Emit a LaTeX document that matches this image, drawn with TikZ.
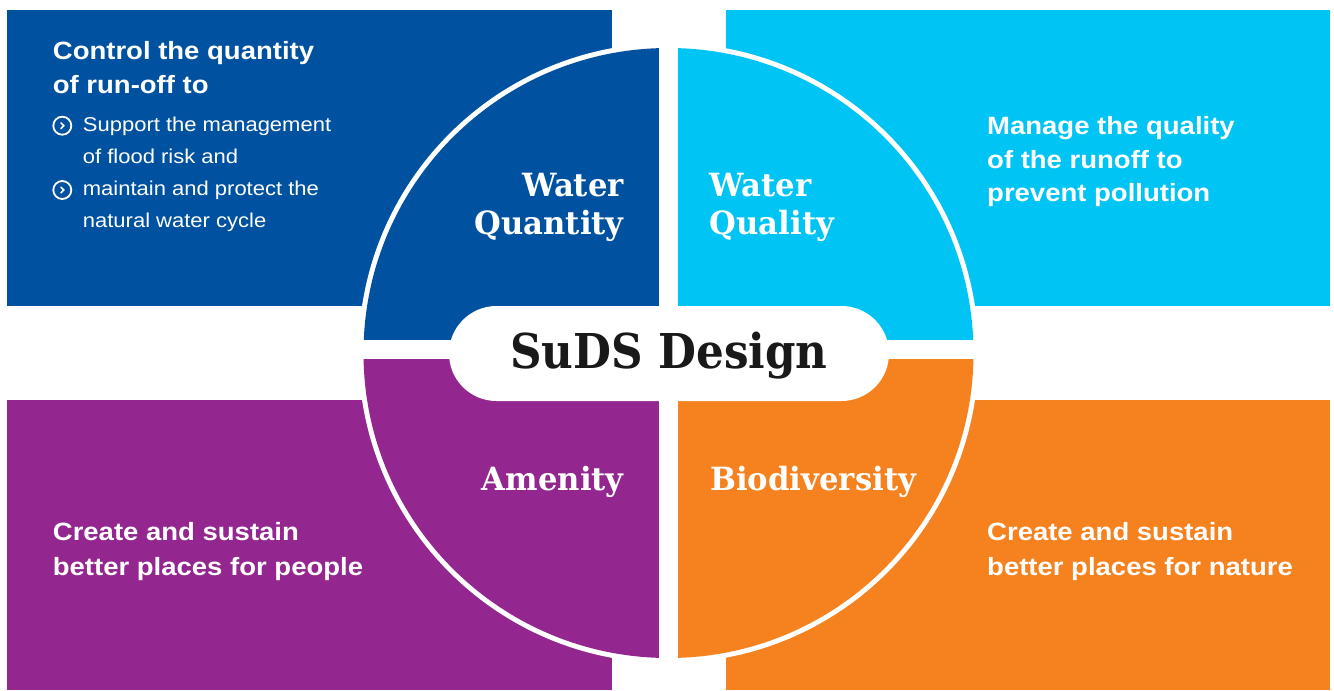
\documentclass[tikz,border=0pt]{standalone}
\usepackage{fontspec}
\setmainfont{Liberation Sans}
\newfontfamily\descfont[FakeStretch=1.1]{Liberation Sans}
\newfontfamily\slabfont[FakeStretch=0.96]{DejaVu Serif}
\newfontfamily\slabnarrow[FakeStretch=0.91]{DejaVu Serif}
\definecolor{sudsblue}{RGB}{0,82,160}
\definecolor{sudscyan}{RGB}{0,196,243}
\definecolor{sudspurple}{RGB}{147,39,143}
\definecolor{sudsorange}{RGB}{245,130,31}
\begin{document}
\begin{tikzpicture}[x=1pt,y=-1pt,
  titletext/.style={anchor=base west, inner sep=0pt, text=white, font=\descfont\bfseries\fontsize{25}{30}\selectfont},
  bullettext/.style={anchor=base west, inner sep=0pt, text=white, font=\descfont\fontsize{20}{24}\selectfont},
  quadlabel/.style={inner sep=0pt, text=white, font=\slabfont\bfseries\fontsize{32}{36}\selectfont},
  bulleticon/.style={circle, draw=white, line width=1.8pt, minimum size=18pt, inner sep=0pt,
    path picture={\draw[white,line width=1.6pt,line cap=round,line join=round]
      ([xshift=-1.4pt,yshift=2.8pt]path picture bounding box.center) --
      ([xshift=1.6pt]path picture bounding box.center) --
      ([xshift=-1.4pt,yshift=-2.8pt]path picture bounding box.center);}},
]
\useasboundingbox (0,0) rectangle (1334,691);
\fill[white] (0,0) rectangle (1334,691);
% outer boxes
\fill[sudsblue] (7,10) rectangle (612,306);
\fill[sudscyan] (726,10) rectangle (1330,306);
\fill[sudspurple] (7,400) rectangle (612,690);
\fill[sudsorange] (726,400) rectangle (1330,690);
% circle
\coordinate (c) at (668.5,353);
\fill[white] (c) circle[radius=310];
\begin{scope}
  \clip (c) circle[radius=305];
  \fill[sudsblue] (350,30) rectangle (659,340);
  \fill[sudscyan] (678,30) rectangle (990,340);
  \fill[sudspurple] (350,359) rectangle (659,680);
  \fill[sudsorange] (678,359) rectangle (990,680);
\end{scope}
% central pill
\fill[white, rounded corners=47.5pt] (449,306) rectangle (889,401);
\node[anchor=base, inner sep=0pt, text=black!90, font=\slabnarrow\bfseries\fontsize{48}{56}\selectfont] (suds) at (669,368) {SuDS Design};
% quadrant labels
\node[quadlabel, anchor=base east] (wq1) at (624,196) {Water};
\node[quadlabel, anchor=base east] (wq2) at (624,234) {Quantity};
\node[quadlabel, anchor=base west] (wl1) at (709.5,196) {Water};
\node[quadlabel, anchor=base west] (wl2) at (709.5,234) {Quality};
\node[quadlabel, anchor=base east] (am) at (624,490) {Amenity};
\node[quadlabel, anchor=base west] (bio) at (710,490) {Biodiversity};
% top left text
\node[titletext] (tl1) at (52.7,59.3) {Control the quantity};
\node[titletext] (tl2) at (52.7,93.3) {of run-off to};
\node[bulleticon] (bi1) at (62.3,125.7) {};
\node[bulleticon] (bi2) at (62.3,190) {};
\node[bullettext] (bt1) at (82.7,131.7) {Support the management};
\node[bullettext] (bt2) at (82.7,163.5) {of flood risk and};
\node[bullettext] (bt3) at (82.7,195.7) {maintain and protect the};
\node[bullettext] (bt4) at (82.7,227.5) {natural water cycle};
% top right text
\node[titletext] (tr1) at (987,134.3) {Manage the quality};
\node[titletext] (tr2) at (987,168.3) {of the runoff to};
\node[titletext] (tr3) at (987,201.7) {prevent pollution};
% bottom left text
\node[titletext] (bl1) at (52.7,540.5) {Create and sustain};
\node[titletext] (bl2) at (52.7,575.5) {better places for people};
% bottom right text
\node[titletext] (br1) at (987,540.5) {Create and sustain};
\node[titletext] (br2) at (987,575.5) {better places for nature};
\end{tikzpicture}
\end{document}
